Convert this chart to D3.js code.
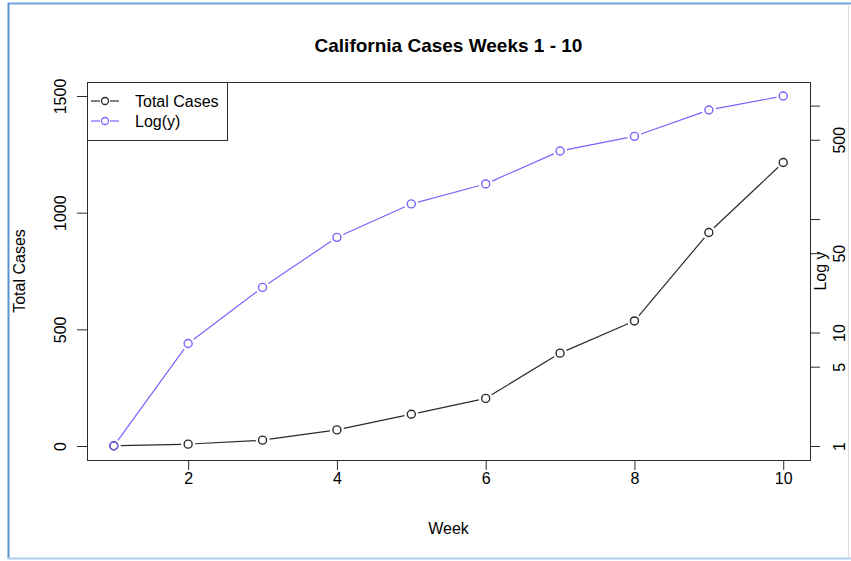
<!DOCTYPE html>
<html>
<head>
<meta charset="utf-8">
<script src="https://cdn.jsdelivr.net/npm/d3@7"></script>
<style>
  body { margin: 0; background: #fff; }
  svg text { font-family: "Liberation Sans", Arial, Helvetica, sans-serif; fill: #000; }
</style>
</head>
<body>
<div id="chart"></div>
<script>
// chart data
const weeks = [1, 2, 3, 4, 5, 6, 7, 8, 9, 10];
const totalCases = [1, 8, 25, 69, 136, 204, 398, 536, 915, 1215];
const weekTicks = [2, 4, 6, 8, 10];
const caseTicks = [0, 500, 1000, 1500];
const logTicks = [1, 5, 10, 50, 100, 500, 1000];
const logTickLabels = ["1", "5", "10", "50", "", "500", ""];
const seriesNames = ["Total Cases", "Log(y)"];

var state = {
    width: 851,
    height: 561,
    left: 87,
    right: 810,
    top: 82,
    bottom: 460,
    black: '#2a2a2a',
    blue: '#7566ff',
    font: 16
};

let svg = d3.select('#chart')
    .append('svg')
        .attr('width', state.width)
        .attr('height', state.height);

// frame of the screenshot
svg.append('line').attr('x1', 8).attr('x2', 851).attr('y1', 3.5).attr('y2', 3.5)
    .style('stroke', '#6fa3d8').style('stroke-width', 2);
svg.append('line').attr('x1', 8.5).attr('x2', 8.5).attr('y1', 3).attr('y2', 559)
    .style('stroke', '#5b93d0').style('stroke-width', 2);
svg.append('line').attr('x1', 8).attr('x2', 851).attr('y1', 558.5).attr('y2', 558.5)
    .style('stroke', '#b4cfea').style('stroke-width', 2);
svg.append('line').attr('x1', 848.5).attr('x2', 848.5).attr('y1', 4).attr('y2', 558)
    .style('stroke', '#dcdcdc').style('stroke-width', 1);

// R style 4% padding on every axis
let x = d3.scaleLinear()
    .domain([d3.min(weeks) - 0.36, d3.max(weeks) + 0.36])
    .range([state.left, state.right]);

let y = d3.scaleLinear()
    .domain([-60, 1560])
    .range([state.bottom, state.top]);

let maxCases = d3.max(totalCases);
let yLog = d3.scaleLog()
    .domain([Math.pow(maxCases, -0.04), Math.pow(maxCases, 1.04)])
    .range([state.bottom, state.top]);

// axes
let leftAxis = svg.append('g')
    .attr('transform', `translate(${state.left},0)`)
    .call(d3.axisLeft(y).tickValues(caseTicks).tickFormat(d3.format('d'))
        .tickSize(10).tickSizeOuter(0));
leftAxis.selectAll('.tick text')
    .attr('x', 0).attr('dy', 0)
    .attr('text-anchor', 'middle')
    .attr('transform', 'translate(-21,0) rotate(-90)');

let bottomAxis = svg.append('g')
    .attr('transform', `translate(0,${state.bottom})`)
    .call(d3.axisBottom(x).tickValues(weekTicks).tickFormat(d3.format('d'))
        .tickSize(10).tickPadding(3).tickSizeOuter(0));

let rightAxis = svg.append('g')
    .attr('transform', `translate(${state.right},0)`)
    .call(d3.axisRight(yLog).tickValues(logTicks)
        .tickFormat((d, i) => logTickLabels[i])
        .tickSize(10).tickSizeOuter(0));
rightAxis.selectAll('.tick text')
    .attr('x', 0).attr('dy', 0)
    .attr('text-anchor', 'middle')
    .attr('transform', 'translate(35,0) rotate(-90)');

svg.selectAll('.domain').style('stroke', 'none');
svg.selectAll('.tick line').style('stroke', state.black);
svg.selectAll('.tick text')
    .style('font-size', state.font + 'px')
    .style('font-family', '"Liberation Sans", Arial, sans-serif')
    .style('fill', '#000');

// plot box
svg.append('rect')
    .attr('x', state.left + 0.5)
    .attr('y', state.top + 0.5)
    .attr('width', state.right - state.left)
    .attr('height', state.bottom - state.top)
    .style('fill', 'none')
    .style('stroke', state.black)
    .style('stroke-width', 1);

/**
Draws a type="b" series: segments with gaps round every point, then open circles
*/
function drawSeries(values, yScale, color){
    let pts = values.map((v, i) => [x(weeks[i]), yScale(v)]);
    let gap = 7;
    let segs = d3.pairs(pts).map(([a, b]) => {
        let dx = b[0] - a[0], dy = b[1] - a[1];
        let len = Math.sqrt(dx * dx + dy * dy);
        return [a[0] + dx / len * gap, a[1] + dy / len * gap,
                b[0] - dx / len * gap, b[1] - dy / len * gap];
    });
    let g = svg.append('g');
    g.selectAll('line')
        .data(segs)
        .enter()
        .append('line')
            .attr('x1', d => d[0]).attr('y1', d => d[1])
            .attr('x2', d => d[2]).attr('y2', d => d[3])
            .style('stroke', color)
            .style('stroke-width', 1.2);
    g.selectAll('circle')
        .data(pts)
        .enter()
        .append('circle')
            .attr('cx', d => d[0])
            .attr('cy', d => d[1])
            .attr('r', 4)
            .style('fill', 'none')
            .style('stroke', color)
            .style('stroke-width', 1.4);
}

drawSeries(totalCases, y, state.black);
drawSeries(totalCases, yLog, state.blue);

// legend
let legend = svg.append('g');
legend.append('rect')
    .attr('x', state.left + 0.5)
    .attr('y', state.top + 0.5)
    .attr('width', 140)
    .attr('height', 58)
    .style('fill', '#fff')
    .style('stroke', state.black);

let legendRows = legend.selectAll('.row')
    .data(seriesNames)
    .enter()
    .append('g')
        .attr('class', 'row')
        .attr('transform', (d, i) => `translate(0,${101 + i * 20})`);
legendRows.each(function(d, i){
    let color = i === 0 ? state.black : state.blue;
    let row = d3.select(this);
    row.append('line').attr('x1', 91).attr('x2', 100).attr('y1', 0).attr('y2', 0)
        .style('stroke', color).style('stroke-width', 1.2);
    row.append('line').attr('x1', 110).attr('x2', 119).attr('y1', 0).attr('y2', 0)
        .style('stroke', color).style('stroke-width', 1.2);
    row.append('circle').attr('cx', 105).attr('cy', 0).attr('r', 3.5)
        .style('fill', 'none').style('stroke', color).style('stroke-width', 1.3);
    row.append('text')
        .attr('x', 135).attr('y', 5.5)
        .style('font-size', state.font + 'px')
        .text(d);
});

// titles
svg.append('text')
    .attr('x', (state.left + state.right) / 2)
    .attr('y', 52)
    .attr('text-anchor', 'middle')
    .style('font-size', '19px')
    .style('font-weight', 'bold')
    .text('California Cases Weeks 1 - 10');

svg.append('text')
    .attr('x', (state.left + state.right) / 2)
    .attr('y', 534)
    .attr('text-anchor', 'middle')
    .style('font-size', state.font + 'px')
    .text('Week');

svg.append('text')
    .attr('transform', `translate(25,${(state.top + state.bottom) / 2}) rotate(-90)`)
    .attr('text-anchor', 'middle')
    .style('font-size', state.font + 'px')
    .text('Total Cases');

svg.append('text')
    .attr('transform', `translate(826,${(state.top + state.bottom) / 2}) rotate(-90)`)
    .attr('text-anchor', 'middle')
    .style('font-size', state.font + 'px')
    .text('Log y');
</script>
</body>
</html>
